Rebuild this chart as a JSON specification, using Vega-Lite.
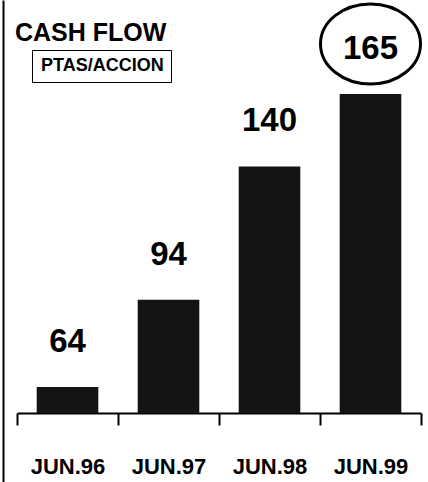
{
  "$schema": "https://vega.github.io/schema/vega-lite/v6.json",
  "width": 404,
  "height": 482,
  "autosize": {"type": "none"},
  "padding": {"left": 17, "right": 7, "top": 0, "bottom": 0},
  "background": "white",
  "config": {"view": {"stroke": null}},
  "title": {
    "text": "CASH FLOW",
    "anchor": "start",
    "frame": "group",
    "orient": "top",
    "baseline": "alphabetic",
    "offset": 0,
    "dx": -2,
    "dy": 68,
    "font": "Liberation Sans, Arial, sans-serif",
    "fontSize": 25,
    "fontWeight": "bold",
    "color": "black"
  },
  "data": {
    "values": [
      {"period": "JUN.96", "value": 64},
      {"period": "JUN.97", "value": 94},
      {"period": "JUN.98", "value": 140},
      {"period": "JUN.99", "value": 165}
    ]
  },
  "encoding": {
    "x": {
      "field": "period",
      "type": "nominal",
      "sort": null,
      "scale": {"paddingInner": 0, "paddingOuter": 0},
      "axis": {
        "title": null,
        "orient": "bottom",
        "offset": -69,
        "tickBand": "extent",
        "tickSize": 12,
        "tickWidth": 2,
        "tickColor": "black",
        "domainColor": "black",
        "domainWidth": 2,
        "labelAngle": 0,
        "labelFont": "Liberation Sans, Arial, sans-serif",
        "labelFontSize": 22,
        "labelFontWeight": "bold",
        "labelColor": "black",
        "labelPadding": 31
      }
    }
  },
  "layer": [
    {
      "mark": {"type": "bar", "width": {"band": 0.61}, "color": "#141414"},
      "encoding": {
        "y": {
          "field": "value",
          "type": "quantitative",
          "scale": {"domain": [31.2, 197.4], "nice": false, "zero": false},
          "axis": {
            "orient": "left",
            "offset": 14,
            "title": null,
            "domain": true,
            "domainColor": "black",
            "domainWidth": 2,
            "ticks": false,
            "labels": false,
            "grid": false
          }
        },
        "y2": {"datum": 55}
      }
    },
    {
      "mark": {
        "type": "text",
        "dy": -35,
        "baseline": "alphabetic",
        "font": "Liberation Sans, Arial, sans-serif",
        "fontSize": 33,
        "fontWeight": "bold",
        "color": "black"
      },
      "encoding": {
        "y": {"field": "value", "type": "quantitative"},
        "text": {"field": "value", "type": "quantitative"}
      }
    },
    {
      "transform": [{"filter": "datum.period == 'JUN.99'"}],
      "mark": {
        "type": "point",
        "shape": "M-1,0A1,0.8,0,1,1,1,0A1,0.8,0,1,1,-1,0Z",
        "size": 10000,
        "filled": false,
        "strokeWidth": 3,
        "yOffset": -50,
        "opacity": 1
      },
      "encoding": {
        "y": {"field": "value", "type": "quantitative"},
        "color": {
          "datum": "PTAS/ACCION",
          "scale": {"range": ["black"]},
          "legend": {
            "orient": "none",
            "legendX": 15,
            "legendY": 50,
            "title": null,
            "strokeColor": "black",
            "padding": 7,
            "symbolType": "circle",
            "symbolSize": 1,
            "symbolOpacity": 0,
            "symbolStrokeWidth": 0,
            "labelOffset": -16,
            "labelFont": "Liberation Sans, Arial, sans-serif",
            "labelFontSize": 18,
            "labelFontWeight": "bold",
            "labelColor": "black",
            "labelExpr": "datum.label + '\u00a0\u00a0\u00a0\u00a0'"
          }
        }
      }
    }
  ]
}
